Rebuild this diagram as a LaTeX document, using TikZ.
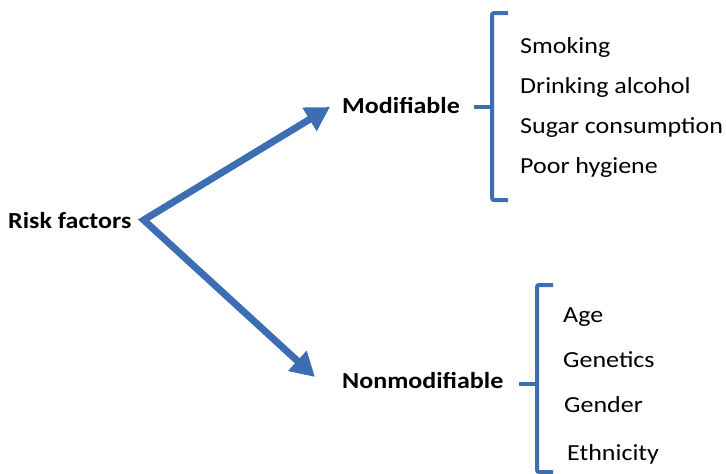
\documentclass[tikz,border=0pt]{standalone}
\usepackage{fontspec}
\setmainfont{Carlito}[FakeStretch=1.13]
\usetikzlibrary{arrows.meta}
\definecolor{riskblue}{RGB}{61,110,180}

\begin{document}
\begin{tikzpicture}[x=1pt,y=-1pt,
    every node/.style={font=\fontsize{23}{27}\selectfont, inner sep=0pt, anchor=base west},
    head/.style={font=\fontsize{23}{27}\selectfont\bfseries},
    bracket/.style={draw=riskblue, line width=4pt, rounded corners=2pt},
    riskarrow/.style={draw=riskblue, line width=7pt, line join=miter,
        {Triangle[width=26pt,length=24pt]}-{Triangle[width=26pt,length=24pt]}}]
    \useasboundingbox (0,0) rectangle (726,474);
    % main labels
    \node[head](risk) at (8,228) {Risk factors};
    \node[head](mod) at (342,113) {Modifiable};
    \node[head](non) at (342,388) {Nonmodifiable};
    % risk factors that can be changed
    \node(smoke) at (520,53) {Smoking};
    \node(drink) at (520,93) {Drinking alcohol};
    \node(sugar) at (520,133) {Sugar consumption};
    \node(hyg) at (520,173) {Poor hygiene};
    % risk factors that cannot be changed
    \node(age) at (563,322) {Age};
    \node(gen) at (563,367) {Genetics};
    \node(gend) at (564,412) {Gender};
    \node(eth) at (567,460) {Ethnicity};
    % arrows out of the fork
    \coordinate(fork) at ([xshift=12pt,yshift=8pt]risk.base east);
    \coordinate(modtip) at ([xshift=-12pt,yshift=6pt]mod.base west);
    \coordinate(nontip) at ([xshift=-27pt,yshift=11pt]non.base west);
    \draw[riskarrow] (modtip) -- (fork) -- (nontip);
    % brackets
    \draw[bracket] ([xshift=14pt,yshift=6pt]mod.base east) -- ++(20,0);
    \draw[bracket] (508,13) -- (492,13) -- (492,200) -- (508,200);
    \draw[bracket] ([xshift=15pt,yshift=4pt]non.base east) -- ++(20,0);
    \draw[bracket] (553,285) -- (537,285) -- (537,472) -- (553,472);
\end{tikzpicture}
\end{document}
